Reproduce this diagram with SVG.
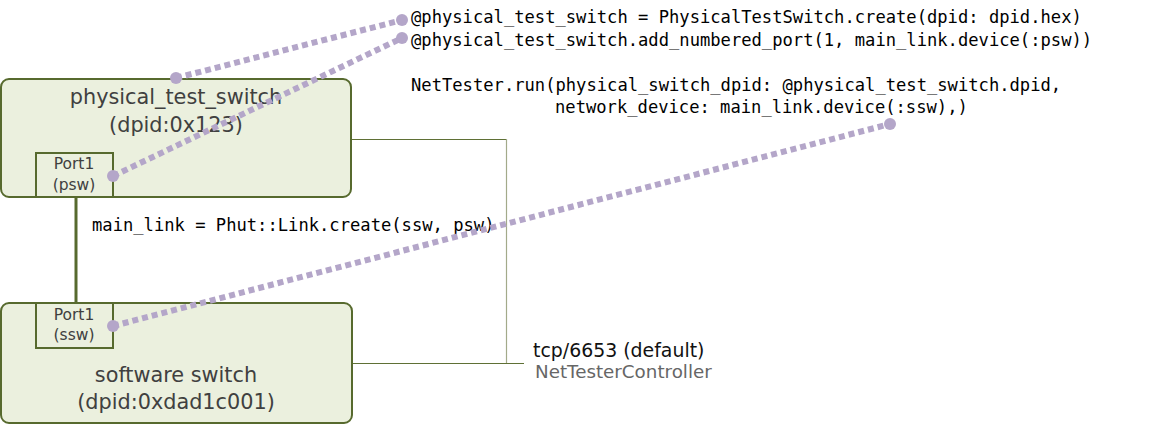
<svg xmlns="http://www.w3.org/2000/svg" width="1157" height="428" viewBox="0 0 1157 428">
<style>
.box{fill:#ebf0de;stroke:#576a2e;stroke-width:2}
.port{fill:none;stroke:#576a2e;stroke-width:2}
.t{font-family:"DejaVu Sans","Noto Sans",sans-serif;fill:#404040;text-anchor:middle}
.code{font-family:"DejaVu Sans Mono","Liberation Mono",monospace;font-size:17.15px;fill:#000}
.dot{stroke:#b4a6c9;stroke-width:6;stroke-dasharray:6 4;fill:none}
.end{fill:#b4a6c9}
.ctl{stroke:#5f7035;stroke-width:1;fill:none}
</style>
<g id="connectors">
<polyline class="ctl" points="351,139.5 506,139.5"/>
<line x1="506.5" y1="139" x2="506.5" y2="363" stroke="#a3aa8a" stroke-width="1.2"/>
<polyline class="ctl" points="352,363.5 524,363.5"/>
<line x1="76" y1="197" x2="76" y2="303" stroke="#576a2e" stroke-width="3"/>
</g>
<g id="physical_test_switch">
<rect class="box" x="1" y="79" width="350" height="118" rx="8"/>
<text class="t" x="176" y="104" font-size="20.8">physical_test_switch</text>
<text class="t" x="176" y="132" font-size="20.8">(dpid:0x123)</text>
<rect class="port" x="36" y="153" width="77" height="44"/>
<text class="t" x="74" y="169" font-size="15.5">Port1</text>
<text class="t" x="74" y="190" font-size="15.5">(psw)</text>
</g>
<g id="software_switch">
<rect class="box" x="1" y="303" width="351" height="120" rx="8"/>
<rect class="port" x="36" y="303" width="77" height="45"/>
<text class="t" x="74" y="320" font-size="15.5">Port1</text>
<text class="t" x="74" y="340" font-size="15.5">(ssw)</text>
<text class="t" x="176" y="382" font-size="20.8">software switch</text>
<text class="t" x="176" y="409" font-size="20.8">(dpid:0xdad1c001)</text>
</g>
<g id="controller">
<text x="533" y="357" font-family="DejaVu Sans,sans-serif" font-size="18.9" fill="#111">tcp/6653 (default)</text>
<text x="535" y="378" font-family="DejaVu Sans,sans-serif" font-size="18.3" fill="#666">NetTesterController</text>
</g>
<g id="code">
<text class="code" x="411" y="23">@physical_test_switch = PhysicalTestSwitch.create(dpid: dpid.hex)</text>
<text class="code" x="411" y="46">@physical_test_switch.add_numbered_port(1, main_link.device(:psw))</text>
<text class="code" x="411" y="91">NetTester.run(physical_switch_dpid: @physical_test_switch.dpid,</text>
<text class="code" x="555" y="113">network_device: main_link.device(:ssw),)</text>
<text class="code" x="92" y="231">main_link = Phut::Link.create(ssw, psw)</text>
</g>
<g id="annotations">
<line class="dot" x1="176" y1="78" x2="402" y2="20"/>
<circle class="end" cx="176" cy="78" r="6"/>
<circle class="end" cx="402" cy="20" r="6"/>
<line class="dot" x1="113" y1="176" x2="402" y2="38"/>
<circle class="end" cx="113" cy="176" r="6"/>
<circle class="end" cx="402" cy="38" r="6"/>
<line class="dot" x1="113" y1="326" x2="890" y2="124"/>
<circle class="end" cx="113" cy="326" r="6"/>
<circle class="end" cx="890" cy="124" r="6"/>
</g>
</svg>
